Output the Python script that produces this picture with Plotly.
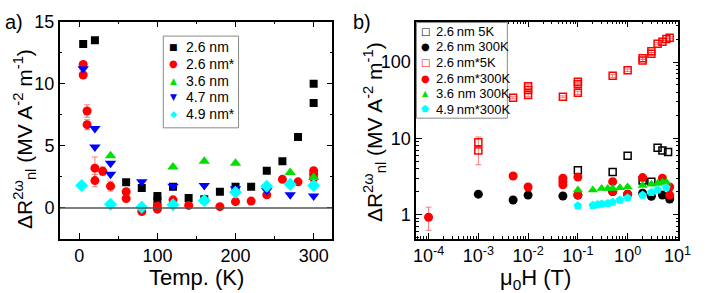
import plotly.graph_objects as go

# ---------------- Panel a data (Temp in K, ΔR in MV A^-2 m^-1) ----------------
a_T_26 = [5, 20, 60, 80, 100, 100, 120, 140, 160, 180, 200, 220, 240, 260, 280, 300, 300]
a_R_26 = [13.2, 13.5, 2.07, 1.6, 0.95, 0.55, 1.7, 0.8, 0.7, 1.3, 1.7, 1.7, 3.0, 3.75, 5.7, 10.0, 8.45]

a_T_26s = [5, 5, 10, 10, 20, 20, 30, 40, 60, 60, 80, 100, 100, 120, 140, 180, 200, 220, 240, 260, 280, 300, 300, 300]
a_R_26s = [11.55, 10.7, 7.8, 6.7, 3.2, 2.2, 2.95, 1.75, 1.3, 0.75, -0.3, 0.15, -0.1, 0.65, 0.2, 0.1, 0.5, 0.55, 1.05, 2.3, 2.1, 3.0, 2.7, 2.4]
a_E_26s = [0.2, 0.2, 0.5, 0.4, 0.9, 0.5, 0.35, 0.4, 0.2, 0.15, 0.1, 0.1, 0.1, 0.1, 0.1, 0.1, 0.1, 0.1, 0.1, 0.1, 0.1, 0.1, 0.1, 0.1]

a_T_36 = [40, 120, 160, 200, 270, 300]
a_R_36 = [4.2, 3.3, 3.75, 3.6, 2.85, 2.45]

a_T_47 = [5, 20, 20, 40, 40, 80, 120, 160, 200, 240, 270, 300]
a_R_47 = [11.2, 6.4, 4.9, 3.6, 2.7, 2.1, 1.75, 1.8, 1.55, 1.4, 1.05, 0.95]

a_T_49s = [3, 40, 80, 120, 160, 200, 240, 270, 300]
a_R_49s = [1.8, 0.3, 0.05, 0.25, 0.6, 1.25, 1.75, 1.9, 1.8]

# ---------------- Panel b data (μ0H in T, ΔR in MV A^-2 m^-1) ----------------
b_H_26_5K = [0.1, 0.5, 1, 2, 3, 4, 5, 6.5]
b_R_26_5K = [3.8, 3.6, 5.9, 2.8, 2.7, 7.5, 6.9, 6.6]

b_H_26_300K = [1e-3, 5e-3, 1e-2, 5e-2, 0.1, 0.5, 1, 2, 3, 5, 7]
b_R_26_300K = [1.85, 1.55, 1.8, 1.75, 1.8, 2.0, 1.85, 1.9, 1.74, 1.8, 1.6]
b_E_26_300K = [0, 0, 0, 0, 0, 0, 0, 0, 0, 0, 0.15]

b_H_26s_5K = [1e-3, 1e-3, 5e-3, 1e-2, 1e-2, 1e-2, 5e-2, 0.1, 0.1, 0.1, 0.5, 1, 2, 2, 3, 3, 4, 5, 6, 7]
b_R_26s_5K = [8.9, 6.9, 34, 48, 43, 37, 35, 55, 51, 39.5, 66, 78, 112, 105, 138, 128, 174, 185, 200, 208]
b_Ep_26s_5K = [1.5, 0.5, 1, 3, 2, 2, 1, 3, 3, 2, 3, 3, 4, 4, 5, 5, 6, 6, 6, 6]
b_Em_26s_5K = [1.5, 2.4, 1, 3, 2, 2, 1, 3, 3, 2, 3, 3, 4, 4, 5, 5, 6, 6, 6, 6]

b_H_26s_300K = [1e-4, 5e-3, 1e-2, 5e-2, 5e-2, 5e-2, 0.1, 0.1, 0.5, 0.5, 1, 2, 5, 7, 7]
b_R_26s_300K = [0.92, 3.2, 2.3, 3.0, 2.7, 2.45, 3.1, 1.8, 2.7, 2.0, 1.85, 3.05, 3.0, 2.3, 1.8]
b_Ep_26s_300K = [0.33, 0.25, 0.1, 0.1, 0.1, 0.1, 0.15, 0.1, 0.15, 0.1, 0.1, 0.1, 0.1, 0.1, 0.1]
b_Em_26s_300K = [0.3, 0.25, 0.1, 0.1, 0.1, 0.1, 0.15, 0.1, 0.15, 0.1, 0.1, 0.1, 0.1, 0.1, 0.1]

b_H_36_300K = [0.1, 0.2, 0.3, 0.4, 0.5, 0.7, 1, 2, 3, 4, 5, 6]
b_R_36_300K = [2.1, 2.1, 2.2, 2.2, 2.2, 2.25, 2.3, 2.4, 2.5, 2.55, 2.65, 2.65]

b_H_49s_300K = [0.1, 0.2, 0.25, 0.3, 0.4, 0.5, 0.7, 1, 2, 3, 4, 6]
b_R_49s_300K = [1.3, 1.32, 1.35, 1.37, 1.4, 1.45, 1.55, 1.65, 1.8, 1.95, 2.1, 2.25]

a_xticks = [0, 100, 200, 300]
a_yticks = [0, 5, 10, 15]
b_xticks = [1e-4, 1e-3, 1e-2, 1e-1, 1, 10]
b_xticklabels = ["10<sup>-4</sup>", "10<sup>-3</sup>", "10<sup>-2</sup>", "10<sup>-1</sup>", "10<sup>0</sup>", "10<sup>1</sup>"]
b_yticks = [1, 10, 100]
b_yticklabels = ["1", "10", "100"]

# legend labels (glyph, glyph size, colour, label)
a_legend = [("\u25a0", 9, "#000000", "2.6 nm"),
            ("\u25cf", 10, "#ff0000", "2.6 nm*"),
            ("\u25b2", 9, "#00e000", "3.6 nm"),
            ("\u25bc", 9, "#0000ff", "4.7 nm"),
            ("\u25c6", 9, "#00ffff", "4.9 nm*")]
b_legend = [("\u25a1", 10, "#000000", "2.6\u2009nm 5K"),
            ("\u25cf", 10, "#000000", "2.6\u2009nm 300K"),
            ("\u25a1", 10, "#ff0000", "2.6\u2009nm*5K"),
            ("\u25cf", 10, "#ff0000", "2.6\u2009nm*300K"),
            ("\u25b2", 8, "#00e000", "3.6 nm 300K"),
            ("\u2b1f", 9, "#00ffff", "4.9\u2009nm*300K")]

FONT = "Arial, 'Liberation Sans', sans-serif"
GLYPHFONT = "'DejaVu Sans', sans-serif"
RED = "#ff0000"
GREEN = "#00e000"
BLUE = "#0000ff"
CYAN = "#00ffff"
ERRC = "rgba(255,80,80,0.75)"

fig = go.Figure()

# ---- panel a ----
fig.add_trace(go.Scatter(x=a_T_26, y=a_R_26, mode="markers", name="2.6 nm",
                         marker=dict(symbol="square", size=8, color="black"),
                         xaxis="x", yaxis="y"))
fig.add_trace(go.Scatter(x=a_T_26s, y=a_R_26s, mode="markers", name="2.6 nm*",
                         error_y=dict(type="data", array=a_E_26s, color=ERRC, thickness=1, width=3),
                         marker=dict(symbol="circle", size=9, color=RED),
                         xaxis="x", yaxis="y"))
fig.add_trace(go.Scatter(x=a_T_36, y=a_R_36, mode="markers", name="3.6 nm",
                         marker=dict(symbol="triangle-up", size=10, color=GREEN),
                         xaxis="x", yaxis="y"))
fig.add_trace(go.Scatter(x=a_T_47, y=a_R_47, mode="markers", name="4.7 nm",
                         marker=dict(symbol="triangle-down", size=10, color=BLUE),
                         xaxis="x", yaxis="y"))
fig.add_trace(go.Scatter(x=a_T_49s, y=a_R_49s, mode="markers", name="4.9 nm*",
                         marker=dict(symbol="diamond", size=10, color=CYAN),
                         xaxis="x", yaxis="y"))

# ---- panel b ----
fig.add_trace(go.Scatter(x=b_H_26_5K, y=b_R_26_5K, mode="markers", name="2.6 nm 5K",
                         marker=dict(symbol="square-open", size=7, color="black", line=dict(width=1.5)),
                         xaxis="x2", yaxis="y2"))
fig.add_trace(go.Scatter(x=b_H_26_300K, y=b_R_26_300K, mode="markers", name="2.6 nm 300K",
                         error_y=dict(type="data", array=b_E_26_300K, color="#444", thickness=1, width=3),
                         marker=dict(symbol="circle", size=9, color="black"),
                         xaxis="x2", yaxis="y2"))
fig.add_trace(go.Scatter(x=b_H_26s_5K, y=b_R_26s_5K, mode="markers", name="2.6 nm*5K",
                         error_y=dict(type="data", array=b_Ep_26s_5K, arrayminus=b_Em_26s_5K,
                                      color=ERRC, thickness=1, width=3),
                         marker=dict(symbol="square-open", size=7, color=RED, line=dict(width=1.5)),
                         xaxis="x2", yaxis="y2"))
fig.add_trace(go.Scatter(x=b_H_26s_300K, y=b_R_26s_300K, mode="markers", name="2.6 nm*300K",
                         error_y=dict(type="data", array=b_Ep_26s_300K, arrayminus=b_Em_26s_300K,
                                      color=ERRC, thickness=1, width=3),
                         marker=dict(symbol="circle", size=9, color=RED),
                         xaxis="x2", yaxis="y2"))
fig.add_trace(go.Scatter(x=b_H_36_300K, y=b_R_36_300K, mode="markers", name="3.6 nm 300K",
                         marker=dict(symbol="triangle-up", size=9, color=GREEN),
                         xaxis="x2", yaxis="y2"))
fig.add_trace(go.Scatter(x=b_H_49s_300K, y=b_R_49s_300K, mode="markers", name="4.9 nm*300K",
                         marker=dict(symbol="pentagon", size=9, color=CYAN),
                         xaxis="x2", yaxis="y2"))

axis_common = dict(showline=True, linecolor="black", linewidth=1.5, mirror="ticks",
                   ticks="inside", ticklen=6, tickwidth=1.2, tickcolor="black",
                   showgrid=False, zeroline=False,
                   tickfont=dict(family=FONT, size=18, color="black"))

W, H = 708, 293

def px(x):
    return x / W

def py(y):
    return 1 - y / H

fig.update_layout(
    width=W, height=H,
    margin=dict(l=0, r=0, t=0, b=0),
    paper_bgcolor="white", plot_bgcolor="white",
    font=dict(family=FONT, color="black"),
    showlegend=False,
    xaxis=dict(domain=[0.082, 0.476], range=[-25, 324], tickvals=a_xticks,
               minor=dict(ticks="inside", ticklen=3, dtick=50, tick0=0, tickcolor="black"),
               anchor="y", **axis_common),
    yaxis=dict(domain=[0.191, 0.959], range=[-2.5, 15], tickvals=a_yticks,
               minor=dict(ticks="inside", ticklen=3, dtick=2.5, tick0=0, tickcolor="black"),
               anchor="x", **axis_common),
    xaxis2=dict(domain=[0.597, 0.976], type="log", range=[-4.25, 1.02],
                tickvals=b_xticks, ticktext=b_xticklabels,
                minor=dict(ticks="inside", ticklen=3, dtick="D1", tickcolor="black"),
                anchor="y2", **axis_common),
    yaxis2=dict(domain=[0.191, 0.959], type="log", range=[-0.32, 2.53],
                tickvals=b_yticks, ticktext=b_yticklabels,
                minor=dict(ticks="inside", ticklen=3, dtick="D1", tickcolor="black"),
                anchor="x2", **axis_common),
)

# zero line in panel a
fig.add_shape(type="line", xref="x domain", yref="y", x0=0, x1=1, y0=0, y1=0,
              line=dict(color="#555", width=1.5))

# legend boxes
fig.add_shape(type="rect", xref="paper", yref="paper", x0=px(164), x1=px(241), y0=py(122), y1=py(27),
              fillcolor="white", line=dict(color="#888", width=1), layer="above")
fig.add_shape(type="rect", xref="paper", yref="paper", x0=px(423), x1=px(516), y0=py(112), y1=py(13),
              fillcolor="white", line=dict(color="#888", width=1), layer="above")

ytitle = "\u0394R<sup>2\u03c9</sup><sub>nl</sub> (MV A<sup>-2</sup> m<sup>-1</sup>)"
annots = [
    dict(text="a)", x=0.0, y=py(12), xanchor="left", font=dict(size=20)),
    dict(text="b)", x=px(356), y=py(12), xanchor="left", font=dict(size=20)),
    dict(text=ytitle, x=px(22), y=py(134), textangle=-90, font=dict(size=21)),
    dict(text=ytitle, x=px(380), y=py(126), textangle=-90, font=dict(size=21)),
    dict(text="Temp. (K)", x=px(198), y=py(277), font=dict(size=22)),
    dict(text="\u03bc<sub>0</sub>H (T)", x=px(545), y=py(278), font=dict(size=22)),
]

# legend entries panel a
for i, (g, gs, col, lab) in enumerate(a_legend):
    yy = 38 + 17.5 * i
    annots.append(dict(text=g, x=px(174), y=py(yy), font=dict(size=gs, color=col, family=GLYPHFONT)))
    annots.append(dict(text=lab, x=px(185), y=py(yy), xanchor="left", font=dict(size=14)))
# legend entries panel b
for i, (g, gs, col, lab) in enumerate(b_legend):
    yy = 22 + 16.2 * i
    annots.append(dict(text=g, x=px(432), y=py(yy), font=dict(size=gs, color=col, family=GLYPHFONT)))
    annots.append(dict(text=lab, x=px(441), y=py(yy), xanchor="left", font=dict(size=13)))

for a in annots:
    a.setdefault("xanchor", "center")
    a.setdefault("yanchor", "middle")
    f = a.pop("font")
    f.setdefault("family", FONT)
    f.setdefault("color", "black")
    fig.add_annotation(xref="paper", yref="paper", showarrow=False, font=f, **a)

fig.write_html("out.html", config={"displayModeBar": False},
               post_script="document.body.style.margin='0';document.body.style.overflow='hidden';")
